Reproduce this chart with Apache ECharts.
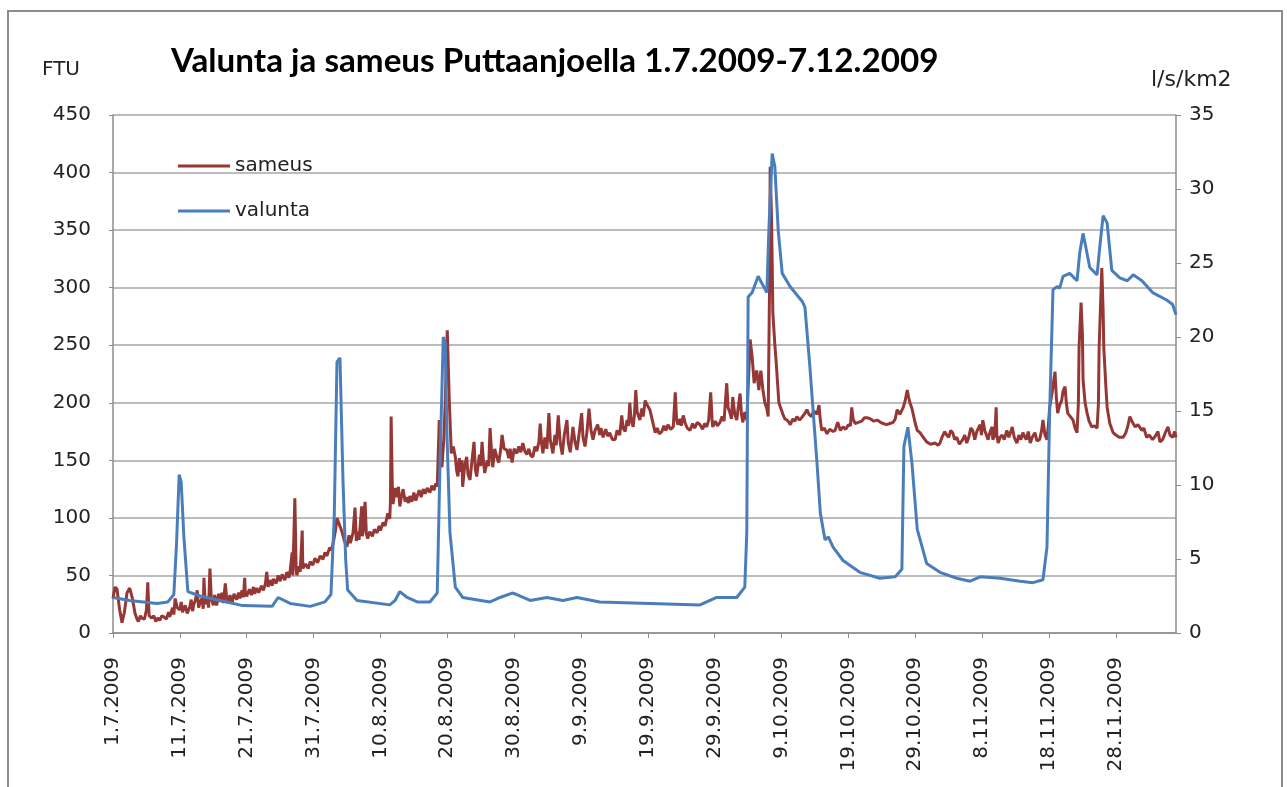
<!DOCTYPE html>
<html>
<head>
<meta charset="utf-8">
<script src="https://cdn.jsdelivr.net/npm/echarts@6/dist/echarts.min.js"></script>
<style>
html,body{margin:0;padding:0;background:#fff;}
#chart{width:1287px;height:787px;}
</style>
</head>
<body>
<div id="chart"></div>
<script>
const titleText = 'Valunta ja sameus Puttaanjoella 1.7.2009-7.12.2009';
const leftAxisName = 'FTU';
const rightAxisName = 'l/s/km2';
const seriesNames = ['sameus', 'valunta'];

// sameus (FTU, left axis): [day since 1.7.2009, value]
const sameus = [
[0,30],[0.3,40],[0.6,38],[1.0,20],[1.35,9],[1.7,18],[2.1,35],[2.5,39],[2.9,30],[3.3,17],[3.6,12],[3.8,10],[4.1,15],[4.3,13],[4.7,12],[5.0,20],[5.2,44],[5.4,15],[5.8,13],[6.1,15],[6.4,10],[6.7,13],[7.0,11],[7.3,15],[7.6,14],[8.0,12],[8.3,18],[8.5,14],[8.9,22],[9.1,16],[9.3,30],[9.6,22],[10.0,20],
[10.2,27],[10.4,18],[10.8,24],[11.1,17],[11.5,23],[11.7,29],[11.9,19],[12.1,25],[12.3,28],[12.6,37],[12.8,22],[13.0,26],[13.3,30],[13.5,21],[13.6,48],[13.8,25],[14.1,31],[14.3,22],[14.5,56],[14.7,30],[15.0,24],[15.2,33],[15.5,24],[15.8,34],[16.0,27],[16.3,35],[16.5,26],[16.8,43],[17.0,30],[17.2,26],[17.5,33],[17.8,26],[18.1,34],[18.5,29],[18.8,35],[19.0,30],[19.3,37],[19.5,31],[19.7,48],[19.8,34],[20.0,32],[20.4,38],[20.7,33],[21.0,40],[21.2,34],[21.5,39],[21.8,35],[22.2,41],[22.5,37],[22.8,43],[23.0,53],[23.2,40],[23.5,46],[23.8,41],[24.0,47],[24.4,43],[24.7,50],[25.0,45],[25.3,51],[25.7,46],[26.0,53],[26.3,48],[26.5,54],[26.8,70],[26.9,50],[27.2,117],[27.4,55],[27.5,50],[27.8,58],[28.0,53],[28.3,89],[28.4,56],[28.8,60],[29.2,56],[29.5,62],[29.9,59],[30.2,65],[30.6,61],[31.0,67],[31.4,64],[31.7,70],[32.0,67],[32.4,74],[32.7,72],[33.0,80],
[33.3,90],[33.5,100],[33.8,95],[34.0,92],[34.3,87],[34.6,80],[35.0,75],[35.3,85],[35.5,78],[35.9,87],[36.2,109],[36.4,80],[36.6,88],[36.8,81],[37.0,95],[37.2,110],[37.3,84],[37.5,92],[37.7,114],[37.9,86],[38.1,82],[38.4,88],[38.8,84],[39.1,90],[39.5,87],[39.8,93],[40.0,89],[40.4,96],[40.7,93],[41.1,104],[41.4,99],[41.5,115],[41.6,188],[41.8,120],[41.9,112],[42.2,126],[42.5,118],[42.7,127],[42.9,110],[43.2,120],[43.4,125],[43.7,114],[43.9,118],[44.2,113],[44.4,119],[44.7,114],[45.0,122],[45.3,115],[45.5,119],[45.8,124],[46.1,118],[46.4,125],[46.7,121],[47.0,126],[47.4,122],[47.7,128],[48.0,124],[48.3,130],[48.5,127],[48.8,185],[49.0,150],[49.2,144],[49.5,170],[49.7,202],[50.0,263],[50.3,202],[50.6,156],
[50.9,162],[51.2,153],[51.4,141],[51.6,136],[51.8,152],[52.0,140],[52.2,150],[52.3,127],[52.6,145],[52.9,153],[53.1,138],[53.4,133],[53.7,150],[54.0,166],[54.2,142],[54.4,136],[54.8,155],[55.0,145],[55.2,166],[55.4,150],[55.6,139],[56.0,150],[56.2,145],[56.4,178],[56.6,160],[56.8,144],[57.1,160],[57.4,153],[57.7,148],[58.0,160],[58.2,172],[58.5,160],[58.9,159],[59.2,152],[59.4,160],[59.7,148],[60.0,160],[60.4,156],[60.7,162],[61.0,157],[61.3,165],[61.6,158],[61.9,155],[62.2,160],[62.5,154],[62.8,153],[63.1,162],[63.4,158],[63.7,166],[63.9,182],[64.1,165],[64.3,156],[64.6,170],[64.9,160],[65.2,191],[65.4,168],[65.8,156],[66.1,172],[66.3,163],[66.6,189],[66.9,165],[67.2,155],[67.5,172],[67.9,185],[68.1,165],[68.4,157],[68.6,168],[68.8,179],[69.1,166],[69.4,159],[69.7,172],[70.1,191],[70.3,170],[70.6,162],[70.9,175],[71.2,195],[71.5,176],[71.8,168],[72.1,176],[72.5,181],[72.8,172],[73.0,178],[73.3,170],[73.7,177],[74.0,171],[74.3,174],[74.7,168],[75.1,168],[75.4,176],[75.8,172],[76.1,189],[76.3,178],[76.6,175],[76.9,185],[77.1,180],[77.3,200],[77.5,185],[77.8,179],[78.0,190],[78.2,211],[78.4,192],[78.8,185],[79.1,195],[79.3,188],[79.6,202],[79.9,198],[80.3,194],[80.7,184],[81.1,174],[81.4,178],[81.7,173],[82.1,175],[82.4,180],[82.7,176],[83.0,181],[83.4,177],[83.8,179],[84.1,209],[84.3,185],[84.5,181],[84.8,186],[85.0,180],[85.3,189],[85.6,182],[85.9,178],[86.3,176],[86.7,182],[87.0,178],[87.4,183],[87.8,181],[88.2,177],[88.5,182],[88.8,179],[89.1,185],[89.4,209],[89.6,186],[89.7,179],[90.1,184],[90.4,180],[90.8,183],[91.1,188],[91.4,184],[91.8,217],[92.0,196],[92.3,191],[92.5,186],[92.7,205],[93.0,190],[93.3,185],[93.5,195],[93.8,208],[94.0,190],[94.2,183],[94.5,192],[94.8,185],
[95.3,255],[95.6,240],[95.9,217],[96.1,225],[96.3,228],[96.6,211],[96.9,228],[97.2,212],[97.5,200],[97.8,195],[98.0,188],[98.2,300],[98.3,405],[98.5,360],[98.6,321],[98.7,278],[99.0,250],[99.2,235],[99.6,200],[99.9,195],[100.2,190],[100.5,186],[100.8,185],[101.1,183],[101.3,181],[101.7,186],[102.0,184],[102.3,188],[102.7,185],[103.0,187],[103.4,190],[103.8,194],[104.1,190],[104.5,188],[104.8,193],[105.0,192],[105.3,190],[105.6,198],[105.8,185],[106.0,176],[106.4,178],[106.8,173],[107.2,177],[107.7,175],[108.0,176],[108.4,183],[108.8,176],[109.2,179],[109.6,177],[110.0,181],[110.3,180],[110.5,196],[110.7,186],[111.0,182],[111.5,183],[112.0,184],[112.4,187],[112.8,187],[113.3,186],[113.8,184],[114.3,185],[114.8,183],[115.2,182],[115.7,181],[116.2,182],[116.7,183],[117.0,186],[117.3,194],[117.7,190],[118.2,196],[118.5,202],[118.8,211],[119.0,205],[119.2,200],[119.5,195],[120.0,182],[120.3,176],[120.7,174],[121.2,170],[121.7,166],[122.3,164],[123.0,165],[123.4,163],[123.7,165],[124.0,170],[124.4,175],[124.7,172],[125.0,170],[125.3,176],[125.6,174],[125.9,168],[126.2,170],[126.6,164],[127.1,168],[127.4,172],[127.7,165],[128.0,170],[128.3,178],[128.6,176],[128.9,168],[129.2,175],[129.7,181],[129.9,172],[130.1,185],[130.4,176],[130.9,168],[131.2,175],[131.5,179],[131.6,168],[131.9,172],[132.1,196],[132.2,172],[132.4,165],[132.7,170],[133.0,172],[133.3,168],[133.7,176],[134.0,170],[134.3,175],[134.5,179],[134.8,170],[135.2,165],[135.5,172],[135.8,168],[136.1,174],[136.4,170],[136.6,168],[136.9,175],[137.2,165],[137.5,170],[137.9,174],[138.2,167],[138.6,168],[138.9,176],[139.1,185],[139.4,172],[139.7,168],[139.9,180],
[140.1,196],[140.5,210],[140.9,227],[141.1,205],[141.3,191],[141.6,198],[141.9,202],[142.1,210],[142.4,214],[142.6,200],[142.8,191],[143.2,188],[143.6,185],[143.9,178],[144.2,174],[144.4,200],[144.5,248],[144.8,287],[145.0,260],[145.1,220],[145.4,200],[145.7,191],[146.0,184],[146.4,179],[146.8,180],[147.2,178],[147.4,200],[147.5,248],[147.9,317],[148.1,280],[148.2,248],[148.5,215],[148.7,196],[149.1,182],[149.6,174],[150.0,172],[150.5,170],[151.1,170],[151.5,174],[151.8,180],[152.1,188],[152.4,184],[152.9,179],[153.3,181],[153.9,176],[154.2,178],[154.6,170],[155.0,172],[155.5,168],[155.9,171],[156.3,175],[156.6,166],[157.0,168],[157.4,174],[157.8,179],[158.1,172],[158.5,170],[158.8,175],[159.0,170]
];

// valunta (l/s/km2, right axis): [day since 1.7.2009, value]
const valunta = [
[0,2.4],[2.5,2.2],[6.6,2.0],[8.2,2.1],[9.1,2.6],[9.5,6],[9.9,10.7],[10.2,10.2],[10.6,6.5],[11.2,2.8],[13.0,2.5],[16.0,2.2],[19.4,1.85],[23.8,1.8],[24.7,2.4],[26.5,2.0],[29.5,1.8],[31.7,2.1],[32.6,2.6],[33.1,8],[33.5,18.3],[33.95,18.6],[34.4,10.3],[34.8,5],[35.1,2.9],[36.5,2.2],[41.4,1.9],[42.2,2.2],[42.9,2.8],[44.0,2.4],[45.5,2.1],[47.4,2.1],[48.5,2.7],[48.9,11.2],[49.4,20.0],[49.7,19.6],[49.95,13.5],[50.4,6.8],[51.2,3.1],[52.3,2.4],[56.4,2.1],[57.9,2.4],[59.7,2.7],[60.4,2.6],[62.4,2.2],[64.9,2.4],[67.3,2.2],[69.4,2.4],[72.8,2.1],[80.3,2.0],[87.8,1.9],[90.3,2.4],[93.3,2.4],[94.5,3.1],[94.8,6.8],[95.0,22.7],[95.6,23],[96.5,24.1],[97.8,23],[98.1,27.2],[98.6,32.4],[99.0,31.5],[99.5,27.2],[100.1,24.3],[101.3,23.4],[103.1,22.4],[103.5,22],[104.2,18.2],[105.3,11.5],[105.8,8.1],[106.5,6.3],[107.0,6.5],[107.7,5.8],[109.2,4.9],[111.7,4.1],[114.7,3.7],[117.0,3.8],[118.0,4.3],[118.3,12.6],[118.9,13.9],[119.5,11.5],[120.3,7.0],[121.7,4.7],[123.7,4.1],[126.2,3.7],[128.2,3.5],[129.7,3.8],[132.7,3.7],[135.7,3.5],[137.6,3.4],[139.1,3.6],[139.7,5.8],[140.1,14.9],[140.6,23.2],[141.2,23.4],[141.6,23.3],[142.1,24.1],[143.1,24.3],[144.2,23.8],[144.6,25.7],[145.1,27.0],[145.5,26.1],[146.1,24.7],[147.2,24.2],[147.6,26.1],[148.1,28.2],[148.7,27.7],[149.4,24.5],[150.6,24.0],[151.7,23.8],[152.6,24.2],[153.9,23.8],[155.5,23.0],[157.6,22.5],[158.5,22.2],[159.0,21.5]
];

const startDateUTC = Date.UTC(2009, 6, 1);
function dayLabel(v) {
  if (Math.abs(v % 10) > 1e-6) return '';
  const d = new Date(startDateUTC + v * 86400000);
  return d.getUTCDate() + '.' + (d.getUTCMonth() + 1) + '.' + d.getUTCFullYear();
}

// fit title font size to the reference title width
const TITLE_FONT = 'Lato';
const mctx = document.createElement('canvas').getContext('2d');
mctx.font = 'bold 100px ' + TITLE_FONT;
const titleSize = Math.round(100 * 768 / mctx.measureText(titleText).width * 10) / 10;

const FONT = 'DejaVu Sans';
const chart = echarts.init(document.getElementById('chart'), null, {renderer: 'canvas'});
chart.setOption({
  backgroundColor: '#ffffff',
  animation: false,
  title: {
    text: titleText,
    left: 166, top: 60 - titleSize * 0.62,
    textStyle: {fontFamily: TITLE_FONT, fontWeight: 'bold', fontSize: titleSize, color: '#000'}
  },
  graphic: [
    {type: 'rect', shape: {x: 8, y: 11, width: 1274, height: 800}, style: {fill: 'none', stroke: '#8c8c8c', lineWidth: 2}, silent: true},
    {type: 'text', left: 42, top: 60, style: {text: leftAxisName, fontFamily: FONT, fontSize: 20, fill: '#222'}},
    {type: 'text', left: 1151, top: 69, style: {text: rightAxisName, fontFamily: FONT, fontSize: 22, fill: '#222'}}
  ],
  legend: {
    data: seriesNames.map(n => ({name: n, icon: 'rect'})),
    orient: 'vertical',
    left: 173, top: 151,
    itemWidth: 52, itemHeight: 3, itemGap: 25,
    textStyle: {fontFamily: FONT, fontSize: 20, color: '#222', padding: [0, 0, 0, 0]}
  },
  grid: {left: 113, right: 111, top: 115, bottom: 154, containLabel: false},
  xAxis: {
    type: 'value', min: 0, max: 159, interval: 10,
    axisLine: {show: true, lineStyle: {color: '#8c8c8c', width: 1.5}},
    axisTick: {show: true, length: 5, lineStyle: {color: '#8c8c8c'}},
    splitLine: {show: false},
    axisLabel: {rotate: 90, margin: 24, formatter: dayLabel, fontFamily: FONT, fontSize: 20, color: '#222', showMaxLabel: false}
  },
  yAxis: [
    {
      type: 'value', min: 0, max: 450, interval: 50, position: 'left',
      axisLine: {show: true, lineStyle: {color: '#8c8c8c', width: 1.5}},
      axisTick: {show: true, length: 4, lineStyle: {color: '#8c8c8c'}},
      splitLine: {show: true, lineStyle: {color: '#a6a6a6', width: 1.5}},
      axisLabel: {margin: 22, fontFamily: FONT, fontSize: 20, color: '#222'}
    },
    {
      type: 'value', min: 0, max: 35, interval: 5, position: 'right',
      axisLine: {show: true, lineStyle: {color: '#8c8c8c', width: 1.5}},
      axisTick: {show: true, length: 5, lineStyle: {color: '#8c8c8c'}},
      splitLine: {show: false},
      axisLabel: {margin: 13, fontFamily: FONT, fontSize: 20, color: '#222'}
    }
  ],
  series: [
    {
      name: seriesNames[0], type: 'line', yAxisIndex: 0, data: sameus,
      symbol: 'none', showSymbol: false, z: 2,
      lineStyle: {color: '#953735', width: 3}, itemStyle: {color: '#953735'}
    },
    {
      name: seriesNames[1], type: 'line', yAxisIndex: 1, data: valunta,
      symbol: 'none', showSymbol: false, z: 3,
      lineStyle: {color: '#4a7ebb', width: 3}, itemStyle: {color: '#4a7ebb'}
    }
  ]
});
</script>
</body>
</html>
